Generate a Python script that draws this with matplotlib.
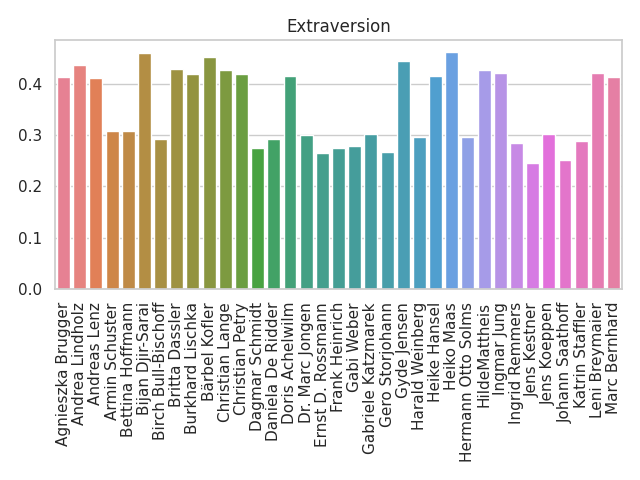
import matplotlib
matplotlib.use("Agg")
import matplotlib.pyplot as plt
import seaborn as sns

names = ["Agnieszka Brugger", "Andrea Lindholz", "Andreas Lenz", "Armin Schuster",
         "Bettina Hoffmann", "Bijan Djir-Sarai", "Birch Bull-Bischoff", "Britta Dassler",
         "Burkhard Lischka", "Bärbel Kofler", "Christian Lange", "Christian Petry",
         "Dagmar Schmidt", "Daniela De Ridder", "Doris Achelwilm", "Dr. Marc Jongen",
         "Ernst D. Rossmann", "Frank Heinrich", "Gabi Weber", "Gabriele Katzmarek",
         "Gero Storjohann", "Gyde Jensen", "Harald Weinberg", "Heike Hansel",
         "Heiko Maas", "Hermann Otto Solms", "HildeMattheis", "Ingmar Jung",
         "Ingrid Remmers", "Jens Kestner", "Jens Koeppen", "Johann Saathoff",
         "Katrin Staffler", "Leni Breymaier", "Marc Bernhard"]
values = [0.414, 0.436, 0.411, 0.308, 0.308, 0.460, 0.293, 0.430, 0.419, 0.453,
          0.427, 0.419, 0.274, 0.293, 0.415, 0.301, 0.266, 0.274, 0.278, 0.303,
          0.268, 0.445, 0.297, 0.415, 0.462, 0.297, 0.427, 0.421, 0.285, 0.245,
          0.303, 0.251, 0.289, 0.421, 0.413]

sns.set_theme(style="whitegrid")
fig, ax = plt.subplots(figsize=(6.4, 4.8), dpi=100)
sns.barplot(x=names, y=values, hue=names, palette="husl", saturation=0.75,
            legend=False, ax=ax)
ax.set_title("Extraversion")
ax.tick_params(axis="x", rotation=90)
plt.tight_layout()
plt.savefig("out.png")
